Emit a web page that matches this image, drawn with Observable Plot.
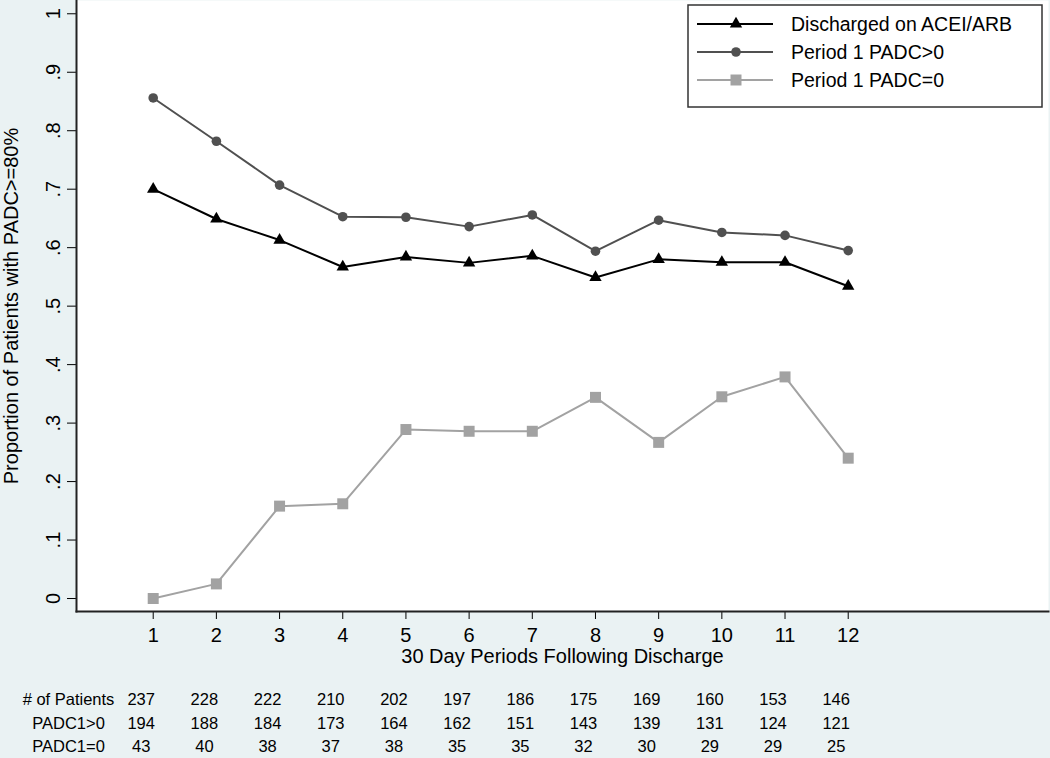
<!DOCTYPE html>
<html>
<head>
<meta charset="utf-8">
<script src="https://cdn.jsdelivr.net/npm/d3@7"></script>
<script src="https://cdn.jsdelivr.net/npm/@observablehq/plot@0.6"></script>
<style>
html, body { margin: 0; padding: 0; background: #eaf2f3; }
#chart { width: 1050px; height: 758px; }
</style>
</head>
<body>
<div id="chart"></div>
<script>
// ---- Data ----
const periods = [1, 2, 3, 4, 5, 6, 7, 8, 9, 10, 11, 12];
const seriesNames = ["Discharged on ACEI/ARB", "Period 1 PADC>0", "Period 1 PADC=0"];
const dischargedACEI = [0.700, 0.649, 0.613, 0.567, 0.584, 0.574, 0.586, 0.549, 0.580, 0.575, 0.575, 0.534];
const padcPositive   = [0.856, 0.782, 0.707, 0.653, 0.652, 0.636, 0.656, 0.594, 0.647, 0.626, 0.621, 0.595];
const padcZero       = [0.000, 0.025, 0.158, 0.162, 0.289, 0.286, 0.286, 0.344, 0.267, 0.345, 0.379, 0.240];
const tableRowLabels = ["# of Patients", "PADC1>0", "PADC1=0"];
const nPatients      = [237, 228, 222, 210, 202, 197, 186, 175, 169, 160, 153, 146];
const nPadcPositive  = [194, 188, 184, 173, 164, 162, 151, 143, 139, 131, 124, 121];
const nPadcZero      = [43, 40, 38, 37, 38, 35, 35, 32, 30, 29, 29, 25];
const yTicks = [0, 0.1, 0.2, 0.3, 0.4, 0.5, 0.6, 0.7, 0.8, 0.9, 1];
const xTitle = "30 Day Periods Following Discharge";
const yTitle = "Proportion of Patients with PADC>=80%";

// ---- Styles ----
const seriesColors = ["#000000", "#505050", "#a2a2a2"];
const seriesSymbols = ["triangle", "circle", "square"];
const seriesRadius = [4.6, 4.8, 6.2];
const xDomain = [-0.214, 15.17];
const yDomain = [-0.0222, 1.0227];
const font = "'Liberation Sans', Arial, sans-serif";

// ---- Tables built from arrays ----
const seriesValues = [dischargedACEI, padcPositive, padcZero];
const points = seriesNames.flatMap((s, i) =>
  periods.map((p, j) => ({series: s, period: p, value: seriesValues[i][j]})));
const counts = [nPatients, nPadcPositive, nPadcZero];
const tableCells = tableRowLabels.flatMap((r, i) =>
  periods.map((p, j) => ({row: i, period: p, n: counts[i][j]})));
const rowDy = [93, 117, 140];

const fmt = d => (d % 1 === 0 ? String(d) : d.toFixed(1).replace(/^0/, ""));

const chart = Plot.plot({
  width: 1050,
  height: 758,
  marginLeft: 76,
  marginRight: 2,
  marginTop: 0,
  marginBottom: 147,
  style: {background: "#eaf2f3", fontFamily: font, fontSize: "20px", color: "#000", overflow: "visible"},
  x: {domain: xDomain},
  y: {domain: yDomain},
  color: {domain: seriesNames, range: seriesColors},
  symbol: {domain: seriesNames, range: seriesSymbols},
  marks: [
    Plot.frame({fill: "white", stroke: "none"}),
    Plot.axisX({ticks: periods, tickSize: 8, tickPadding: 8, tickFormat: d => String(d),
      label: xTitle, labelAnchor: "center", labelArrow: "none", labelOffset: 51, fontSize: 20}),
    Plot.axisY({ticks: yTicks, tickSize: 9, tickPadding: 8, tickRotate: -90, tickFormat: fmt,
      label: yTitle, labelAnchor: "center", labelArrow: "none", labelOffset: 73, fontSize: 20}),
    Plot.frame({anchor: "bottom", stroke: "#222", strokeWidth: 2}),
    Plot.frame({anchor: "left", stroke: "#222", strokeWidth: 2}),
    Plot.line(points, {x: "period", y: "value", z: "series", stroke: "series", strokeWidth: 2}),
    ...seriesNames.map((s, i) =>
      Plot.dot(points.filter(d => d.series === s), {
        x: "period", y: "value", symbol: "series", fill: "series", stroke: "none", r: seriesRadius[i]
      })),
    ...tableRowLabels.map((label, i) =>
      Plot.text(tableCells.filter(d => d.row === i), {
        x: "period", text: d => String(d.n), frameAnchor: "bottom", dy: rowDy[i], dx: -12,
        fontSize: 16.5, fill: "#000"
      })),
    ...tableRowLabels.map((label, i) =>
      Plot.text([label], {
        text: d => d, frameAnchor: "bottom-left", dx: -8, dy: rowDy[i], textAnchor: "middle",
        fontSize: 16.5, fill: "#000"
      }))
  ]
});

document.getElementById("chart").appendChild(chart);

// ---- Legend (drawn inside the plot area, top right) ----
const svg = d3.select(chart);
const lg = svg.append("g").attr("font-family", font).attr("font-size", 19.5).attr("text-anchor", "start");
lg.append("rect").attr("x", 688).attr("y", 5).attr("width", 354).attr("height", 102)
  .attr("fill", "white").attr("stroke", "#333").attr("stroke-width", 1.5);
seriesNames.forEach((name, i) => {
  const yy = 24 + i * 28;
  lg.append("line").attr("x1", 697).attr("x2", 773).attr("y1", yy).attr("y2", yy)
    .attr("stroke", seriesColors[i]).attr("stroke-width", 2);
  const sym = d3.symbol()
    .type(seriesSymbols[i] === "triangle" ? d3.symbolTriangle : seriesSymbols[i] === "circle" ? d3.symbolCircle : d3.symbolSquare)
    .size(Math.PI * seriesRadius[i] * seriesRadius[i]);
  lg.append("path").attr("d", sym()).attr("transform", `translate(736,${yy})`).attr("fill", seriesColors[i]);
  lg.append("text").attr("x", 791).attr("y", yy).attr("dy", "0.35em").attr("fill", "#000").text(name);
});
</script>
</body>
</html>
